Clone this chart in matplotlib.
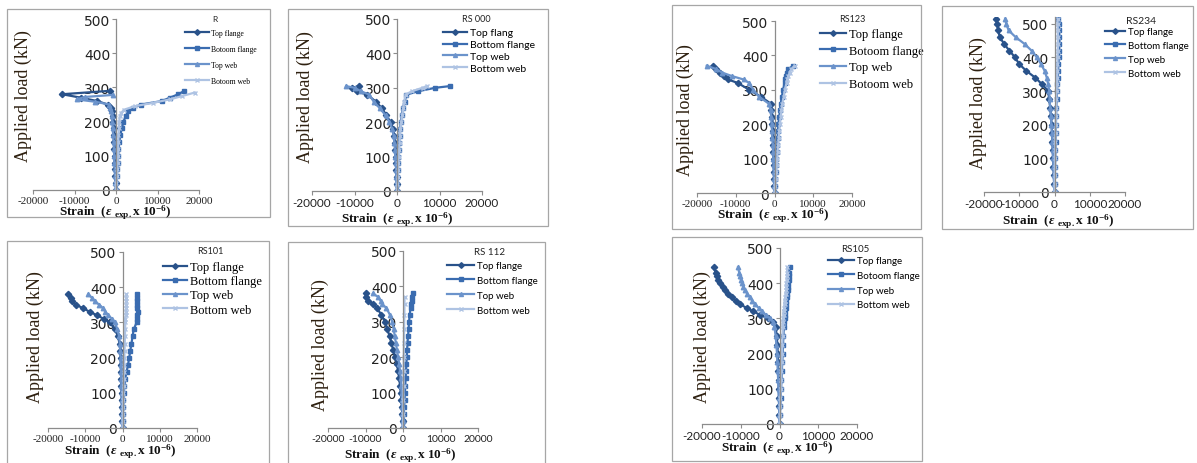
import matplotlib
matplotlib.use('Agg')
import matplotlib.pyplot as plt
from matplotlib.patches import Rectangle

# ---- data: load (kN) vs strain (x10^-6) for each specimen ----
# R
r_tf_load = [0, 20, 40, 60, 80, 100, 120, 140, 160, 180, 200, 215, 230, 240, 250, 260, 270, 280, 290]
r_tf_strain = [0, -100, -200, -250, -300, -350, -400, -450, -500, -600, -700, -800, -1000, -1300, -2000, -4500, -8500, -13000, -1500]
r_bf_load = [0, 20, 40, 60, 80, 100, 120, 140, 160, 180, 200, 215, 230, 240, 250, 260, 270, 280, 290]
r_bf_strain = [0, 100, 200, 300, 400, 500, 600, 800, 1000, 1400, 1800, 2300, 3000, 4200, 6000, 11000, 13000, 15000, 16500]
r_tw_load = [0, 20, 40, 60, 80, 100, 120, 140, 160, 180, 200, 215, 230, 240, 250, 258, 265, 272, 278]
r_tw_strain = [0, -150, -250, -300, -400, -450, -500, -600, -700, -800, -900, -1000, -1200, -1400, -1600, -5000, -9500, -7500, -800]
r_bw_load = [0, 20, 40, 60, 80, 100, 120, 140, 160, 180, 200, 215, 225, 235, 245, 255, 265, 275, 285]
r_bw_strain = [0, 100, 200, 300, 400, 450, 500, 550, 600, 700, 800, 900, 1200, 2000, 4500, 9000, 13000, 16000, 19000]

# RS 000
rs000_load = [0, 20, 40, 60, 80, 100, 120, 140, 160, 180, 200, 220, 240, 260, 280, 290, 300, 305]
rs000_tf = [0, -50, -100, -150, -200, -300, -400, -500, -700, -1000, -1500, -2500, -3500, -5000, -7000, -9500, -10500, -9000]
rs000_bf = [0, 50, 100, 150, 200, 300, 400, 500, 600, 700, 900, 1100, 1400, 1800, 2200, 5000, 9000, 12500]
rs000_tw = [0, -100, -150, -200, -300, -400, -500, -600, -800, -1100, -1800, -2700, -4000, -5500, -6500, -8500, -10000, -12000]
rs000_bw = [0, 100, 150, 250, 300, 400, 500, 600, 700, 800, 1000, 1200, 1500, 1700, 2000, 3500, 6000, 7000]

# RS123
rs123_load = [0, 20, 40, 60, 80, 100, 120, 140, 160, 180, 200, 220, 240, 260, 280, 300, 320, 330, 340, 350, 360, 370]
rs123_tf = [0, -50, -100, -150, -200, -250, -300, -350, -400, -500, -600, -700, -800, -1000, -3500, -6500, -9500, -12000, -13000, -14000, -15000, -16000]
rs123_bf = [0, 100, 200, 300, 400, 500, 600, 700, 800, 900, 1000, 1200, 1400, 1600, 1900, 2200, 2600, 2800, 3000, 3300, 3600, 4800]
rs123_tw = [0, -100, -150, -200, -250, -300, -350, -450, -550, -650, -750, -850, -1000, -1500, -4000, -5500, -6500, -8000, -11000, -13500, -15000, -17500]
rs123_bw = [0, 150, 300, 450, 600, 700, 800, 950, 1100, 1200, 1400, 1600, 1800, 2000, 2400, 2700, 3100, 3300, 3600, 3900, 4300, 5200]

# RS234
rs234_load = [0, 25, 50, 75, 100, 125, 150, 175, 200, 225, 250, 275, 300, 320, 340, 360, 380, 400, 420, 440, 460, 480, 500, 515]
rs234_tf = [0, -100, -200, -300, -400, -500, -600, -700, -800, -1000, -1200, -1500, -1800, -3500, -5500, -8000, -10000, -11200, -12800, -14300, -15500, -16000, -16300, -16600]
rs234_bf = [0, 50, 100, 150, 200, 250, 300, 350, 400, 450, 500, 600, 700, 800, 900, 1000, 1100, 1200, 1300, 1400, 1400, 1300, 1200, 1100]
rs234_tw = [0, -100, -200, -300, -400, -500, -600, -700, -900, -1000, -1200, -1400, -1500, -1800, -2200, -2800, -3800, -5000, -6500, -8500, -11000, -13000, -13700, -14000]
rs234_bw = [0, 50, 80, 120, 150, 200, 250, 300, 350, 400, 450, 500, 600, 700, 750, 800, 850, 900, 950, 1000, 1000, 950, 900, 900]

# RS101
rs101_load = [0, 20, 40, 60, 80, 100, 120, 140, 160, 180, 200, 220, 240, 260, 280, 300, 310, 320, 330, 340, 350, 360, 370, 380]
rs101_tf = [0, -50, -100, -150, -200, -250, -300, -350, -400, -450, -500, -600, -800, -1200, -2000, -3400, -5000, -6800, -8800, -10500, -12500, -13500, -13800, -14600]
rs101_bf = [0, 50, 100, 150, 250, 350, 500, 700, 1100, 1500, 1800, 2100, 2400, 2700, 3000, 3800, 4000, 4000, 4100, 4000, 4000, 4000, 4000, 4000]
rs101_tw = [0, -50, -100, -150, -200, -250, -300, -350, -400, -450, -500, -600, -700, -900, -1400, -2000, -2800, -3800, -4600, -5200, -6200, -7400, -8200, -9200]
rs101_bw = [0, 50, 100, 150, 200, 250, 300, 350, 400, 450, 500, 550, 600, 650, 700, 750, 800, 850, 900, 950, 1000, 1000, 1000, 1000]

# RS 112
rs112_load = [0, 20, 40, 60, 80, 100, 120, 140, 160, 180, 200, 220, 240, 260, 280, 300, 320, 340, 350, 360, 370, 380]
rs112_tf = [0, -100, -200, -300, -450, -600, -800, -1000, -1300, -1600, -2100, -2600, -3100, -3600, -4200, -4800, -5800, -7000, -8000, -9300, -10000, -9800]
rs112_bf = [0, 100, 200, 300, 400, 500, 600, 700, 800, 900, 1000, 1100, 1200, 1350, 1500, 1600, 1800, 2000, 2100, 2300, 2500, 2600]
rs112_tw = [0, -100, -150, -200, -300, -400, -500, -600, -800, -1000, -1300, -1600, -1900, -2200, -2500, -2900, -3500, -4500, -5600, -6000, -6600, -8000]
rs112_bw_load = [0, 40, 80, 120, 160, 200, 240, 280, 320, 350, 370]
rs112_bw = [0, 50, 100, 150, 150, 200, 250, 300, 350, 400, 400]

# RS105
rs105_load = [0, 25, 50, 75, 100, 125, 150, 175, 200, 225, 250, 275, 290, 300, 310, 320, 330, 340, 350, 360, 370, 380, 390, 400, 410, 420, 430, 445]
rs105_tf = [0, -50, -100, -150, -200, -250, -300, -350, -450, -550, -700, -1000, -1700, -3000, -5000, -6800, -8500, -10200, -11300, -12300, -13200, -14000, -14700, -15400, -15800, -16200, -16500, -16900]
rs105_bf = [0, 100, 200, 300, 400, 500, 600, 700, 800, 900, 1000, 1100, 1200, 1300, 1400, 1500, 1600, 1700, 1800, 1900, 2000, 2100, 2200, 2300, 2400, 2500, 2500, 2600]
rs105_tw = [0, -50, -100, -150, -250, -350, -450, -550, -650, -800, -1000, -1300, -1700, -2400, -3500, -4500, -5400, -6300, -7000, -7600, -8300, -8900, -9300, -9700, -10000, -10200, -10400, -10700]
rs105_bw = [0, 80, 160, 240, 320, 400, 480, 560, 640, 720, 800, 880, 950, 1000, 1050, 1100, 1200, 1300, 1400, 1500, 1600, 1700, 1750, 1800, 1850, 1900, 1950, 2000]

x_ticks = [-20000, -10000, 0, 10000, 20000]
y_ticks = [0, 100, 200, 300, 400, 500]

# ---- styling ----
W, H = 1197, 464
plt.rcParams['mathtext.fontset'] = 'custom'
plt.rcParams['mathtext.rm'] = 'Liberation Serif'
plt.rcParams['mathtext.it'] = 'Liberation Serif:italic:bold'
plt.rcParams['mathtext.bf'] = 'Liberation Serif:bold'

colors = ['#29528a', '#3a6cb0', '#6b93cb', '#aec3e3']
markers = ['D', 's', '^', 'x']
SERIF = 'Liberation Serif'
SANS = 'Lato'

fig = plt.figure(figsize=(W / 100, H / 100), dpi=100)


def fx(x):
    return x / W


def fy(y):
    return 1 - y / H


def panel(box, name, axbox, ymax, data, tick_font, tick_size, title, labels,
          leg, ylab_xy, xlab_xy):
    # panel frame
    x0, y0, x1, y1 = box
    fig.add_artist(Rectangle((fx(x0), fy(y1)), fx(x1 - x0), (y1 - y0) / H,
                             transform=fig.transFigure, fill=False,
                             ec='#a6a6a6', lw=0.9))
    a0, at, a1, ab = axbox
    ax = fig.add_axes([fx(a0), fy(ab), fx(a1 - a0), (ab - at) / H])
    ax.patch.set_visible(False)
    for (s, l), c, m in zip(data, colors, markers):
        ax.plot(s, l, color=c, marker=m, ms=3.2, lw=1.6, mew=1.0, zorder=2)
    ax.set_xlim(-20000, 20000)
    ax.set_ylim(0, ymax)
    ax.set_xticks(x_ticks, labels=[str(v) for v in x_ticks],
                  fontfamily=tick_font, fontsize=tick_size)
    ax.set_yticks(y_ticks, labels=[str(v) for v in y_ticks],
                  fontfamily=tick_font, fontsize=tick_size)
    ax.spines['top'].set_visible(False)
    ax.spines['right'].set_visible(False)
    ax.spines['left'].set_position(('data', 0))
    for sp in ['left', 'bottom']:
        ax.spines[sp].set_color('#8c8c8c')
        ax.spines[sp].set_linewidth(0.9)
        ax.spines[sp].set_zorder(3)
    ax.tick_params(length=3, color='#8c8c8c', pad=1.2, labelcolor='#222222')

    # legend and specimen name
    lx, ly, lsize, lfont, lspace, hlen = leg
    ax.legend(ax.get_lines(), labels, loc='upper left',
              bbox_to_anchor=(fx(lx), fy(ly)), bbox_transform=fig.transFigure,
              frameon=False, prop={'family': lfont, 'size': lsize},
              labelspacing=lspace, handlelength=hlen, handletextpad=0.25,
              borderpad=0, borderaxespad=0, markerscale=0.9)
    tx, ty, tsize = title
    fig.text(fx(tx), fy(ty), name, ha='center', va='center',
             fontsize=tsize, family=SANS, color='#222222')

    fig.text(fx(ylab_xy[0]), fy(ylab_xy[1]), 'Applied load (kN)', rotation=90,
             ha='center', va='center', fontsize=13, family=SERIF,
             color='#2e2010')
    fig.text(fx(xlab_xy[0]), fy(xlab_xy[1]),
             r'Strain  ($\epsilon$ $_{\mathbf{exp.}}$x 10$^{\mathbf{-6}}$)',
             ha='center', va='center', fontsize=9.5, family=SERIF,
             fontweight='bold', color='#111111')
    return ax


lab_a = ['Top flange', 'Botoom flange', 'Top web', 'Botoom web']
lab_b = ['Top flang', 'Bottom flange', 'Top web', 'Bottom web']
lab_c = ['Top flange', 'Bottom flange', 'Top web', 'Bottom web']
lab_d = ['Top flange', 'Botoom flange', 'Top web', 'Bottom web']

# R
panel((7, 10, 270, 218), 'R', (33, 20, 199, 191), 500,
      [(r_tf_strain, r_tf_load), (r_bf_strain, r_bf_load),
       (r_tw_strain, r_tw_load), (r_bw_strain, r_bw_load)],
      SERIF, 8, (215, 19, 6), lab_a, (185, 30, 5.5, SERIF, 1.05, 3.2),
      (23, 96), (115, 213))

# RS 000
panel((288, 10, 548, 227), 'RS 000', (312, 20, 482, 192), 500,
      [(rs000_tf, rs000_load), (rs000_bf, rs000_load),
       (rs000_tw, rs000_load), (rs000_bw, rs000_load)],
      SANS, 8.5, (476, 20, 6.5), lab_b, (443, 29, 7.5, SANS, 0.25, 2.3),
      (305, 97), (397, 220))

# RS123
panel((672, 6, 921, 230), 'RS123', (697, 22, 852, 194), 500,
      [(rs123_tf, rs123_load), (rs123_bf, rs123_load),
       (rs123_tw, rs123_load), (rs123_bw, rs123_load)],
      SERIF, 8, (852, 20, 6.5), lab_a, (820, 29, 9, SERIF, 0.38, 2.1),
      (685, 110), (773, 216))

# RS234
panel((942, 7, 1193, 230), 'RS234', (984, 18, 1125, 193), 520,
      [(rs234_tf, rs234_load), (rs234_bf, rs234_load),
       (rs234_tw, rs234_load), (rs234_bw, rs234_load)],
      SANS, 8.5, (1141, 22, 7.5), lab_c, (1105, 28, 7, SANS, 0.5, 2.1),
      (978, 103), (1058, 222))

# RS101
panel((7, 242, 269, 470), 'RS101', (48, 253, 197, 429), 500,
      [(rs101_tf, rs101_load), (rs101_bf, rs101_load),
       (rs101_tw, rs101_load), (rs101_bw, rs101_load)],
      SERIF, 8, (210, 252, 6.5), lab_c, (163, 262, 9, SERIF, 0.18, 1.9),
      (35, 337), (120, 452))

# RS 112
panel((288, 243, 545, 470), 'RS 112', (328, 252, 478, 429), 500,
      [(rs112_tf, rs112_load), (rs112_bf, rs112_load),
       (rs112_tw, rs112_load), (rs112_bw, rs112_bw_load)],
      SANS, 7.5, (490, 253, 7), lab_c, (447, 262, 7, SANS, 0.6, 2.8),
      (320, 345), (400, 456))

# RS105
panel((672, 238, 922, 462), 'RS105', (702, 249, 857, 425), 500,
      [(rs105_tf, rs105_load), (rs105_bf, rs105_load),
       (rs105_tw, rs105_load), (rs105_bw, rs105_load)],
      SANS, 8.5, (855, 250, 7), lab_d, (828, 257, 7, SANS, 0.6, 2.7),
      (702, 337), (777, 449))

fig.savefig('out.png', dpi=100)
